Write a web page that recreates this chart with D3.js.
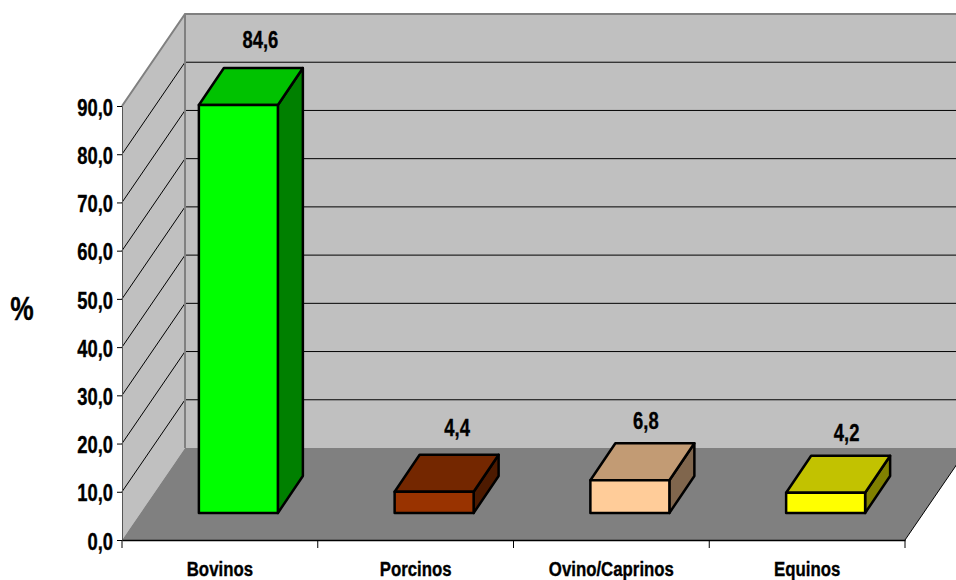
<!DOCTYPE html>
<html>
<head>
<meta charset="utf-8">
<script src="https://cdn.jsdelivr.net/npm/d3@7"></script>
<style>
    html, body { margin: 0; padding: 0; background: #fff; overflow: hidden; }
    text { font-family: "Liberation Sans", Arial, sans-serif; font-weight: bold; fill: #000; stroke: #000; stroke-width: 0.35px; }
</style>
</head>
<body>
<svg id="chart" width="956" height="580"></svg>
<script>
const categories = ['Bovinos', 'Porcinos', 'Ovino/Caprinos', 'Equinos'];
const values = [84.6, 4.4, 6.8, 4.2];
const yTicks = [0, 10, 20, 30, 40, 50, 60, 70, 80, 90];
const barColors = ['#00ff00', '#993300', '#ffcc99', '#ffff00'];

const svg = d3.select('#chart');

// Front plane of the 3D box
const x = d3.scaleBand().domain(categories).range([122, 905]);
const y = d3.scaleLinear().domain([0, 90]).range([540, 106]);

// Depth of the box and of each bar, and where bars sit on the floor
const depth = { x: 63, y: -92 };
const barDepth = { x: 25, y: -37 };
const barOffset = { x: 18.5, y: -27 };
const barWidth = 79;

// The value labels do not sit at a fixed distance from their bars
const labelShift = [[0, 1], [1, 2], [-6, 7], [-1, 6]];

const path = pts => 'M' + pts.map(p => p.join(',')).join('L') + 'Z';
const shade = (c, k) => {
    const r = d3.rgb(c);
    return d3.rgb(r.r * k, r.g * k, r.b * k).formatHex();
};
const fmt = v => d3.format('.1f')(v).replace('.', ',');

// Squeeze text sideways, the original font is a condensed bold
function condense(selection, k) {
    selection.each(function () {
        const len = this.getComputedTextLength();
        d3.select(this)
            .attr('textLength', len * k)
            .attr('lengthAdjust', 'spacingAndGlyphs');
    });
}

const x0 = x.range()[0], x1 = x.range()[1];
const yBase = y(0), yTop = y(90);

// Back wall
svg.append('path')
    .attr('d', path([[x0 + depth.x, yBase + depth.y], [x1 + depth.x, yBase + depth.y], [x1 + depth.x, yTop + depth.y], [x0 + depth.x, yTop + depth.y]]))
    .attr('fill', '#c0c0c0');

// Side wall
svg.append('path')
    .attr('d', path([[x0, yBase], [x0 + depth.x, yBase + depth.y], [x0 + depth.x, yTop + depth.y], [x0, yTop]]))
    .attr('fill', '#c0c0c0');

// Grid lines on both walls
const grid = svg.append('g').attr('stroke', '#000').attr('stroke-width', 1).attr('fill', 'none');
yTicks.filter(t => t > 0 && t < 90).forEach(t => {
    grid.append('path')
        .attr('d', `M${x0},${y(t)}L${x0 + depth.x},${y(t) + depth.y}L${x1 + depth.x},${y(t) + depth.y}`);
});

// Wall edges
svg.append('path')
    .attr('d', `M${x0},${yTop}L${x0 + depth.x},${yTop + depth.y}L${x1 + depth.x},${yTop + depth.y}M${x0 + depth.x},${yTop + depth.y}L${x0 + depth.x},${yBase + depth.y}`)
    .attr('stroke', '#808080').attr('stroke-width', 2).attr('fill', 'none');

// Floor
svg.append('path')
    .attr('d', path([[x0, yBase], [x1, yBase], [x1 + depth.x, yBase + depth.y], [x0 + depth.x, yBase + depth.y]]))
    .attr('fill', '#808080');
svg.append('path')
    .attr('d', `M${x1},${yBase}L${x1 + depth.x},${yBase + depth.y}`)
    .attr('stroke', '#000').attr('stroke-width', 1);

// Bars
const barX = d => x(d) + (x.bandwidth() - barWidth) / 2 + barOffset.x;
const barTop = i => y(values[i]) + barOffset.y;
const bars = svg.append('g').attr('stroke', '#000').attr('stroke-width', 2.5).attr('stroke-linejoin', 'round');

categories.forEach((c, i) => {
    const l = barX(c), r = l + barWidth, t = barTop(i), b = yBase + barOffset.y;
    const g = bars.append('g');
    g.append('path')
        .attr('d', path([[r, t], [r + barDepth.x, t + barDepth.y], [r + barDepth.x, b + barDepth.y], [r, b]]))
        .attr('fill', shade(barColors[i], 0.5));
    g.append('path')
        .attr('d', path([[l, t], [l + barDepth.x, t + barDepth.y], [r + barDepth.x, t + barDepth.y], [r, t]]))
        .attr('fill', shade(barColors[i], 0.76));
    g.append('rect')
        .attr('x', l).attr('y', t).attr('width', barWidth).attr('height', b - t)
        .attr('fill', barColors[i]);
});

// Value labels
svg.append('g').selectAll('text')
    .data(categories)
    .enter().append('text')
    .attr('x', (d, i) => barX(d) + barWidth / 2 + 22 + labelShift[i][0])
    .attr('y', (d, i) => barTop(i) + barDepth.y - 21 + labelShift[i][1])
    .attr('text-anchor', 'middle')
    .attr('font-size', 23)
    .text((d, i) => fmt(values[i]))
    .call(condense, 0.8);

// Axes
const axisY = svg.append('g')
    .attr('transform', `translate(${x0},0)`)
    .call(d3.axisLeft(y).tickValues(yTicks).tickFormat(fmt).tickSize(5).tickPadding(4));
axisY.selectAll('text')
    .attr('font-size', 23)
    .attr('font-family', null)
    .attr('dy', '0.4em')
    .call(condense, 0.8);
axisY.select('.domain').attr('stroke', '#555').attr('stroke-width', 1);

const axisX = svg.append('g')
    .attr('transform', `translate(0,${yBase})`)
    .call(d3.axisBottom(x).tickSize(0).tickPadding(22));
axisX.selectAll('text')
    .attr('font-size', 20)
    .attr('font-family', null)
    .call(condense, 0.84);
axisX.select('.domain').attr('stroke', '#000').attr('stroke-width', 1.5);

// Category separators on the x axis
svg.append('g').selectAll('line')
    .data(d3.range(categories.length + 1))
    .enter().append('line')
    .attr('x1', i => x0 + i * x.bandwidth())
    .attr('x2', i => x0 + i * x.bandwidth())
    .attr('y1', yBase)
    .attr('y2', yBase + 8)
    .attr('stroke', '#000');

// Axis title
svg.append('text')
    .attr('x', 22)
    .attr('y', 320)
    .attr('text-anchor', 'middle')
    .attr('font-size', 33)
    .text('%')
    .call(condense, 0.8);
</script>
</body>
</html>
